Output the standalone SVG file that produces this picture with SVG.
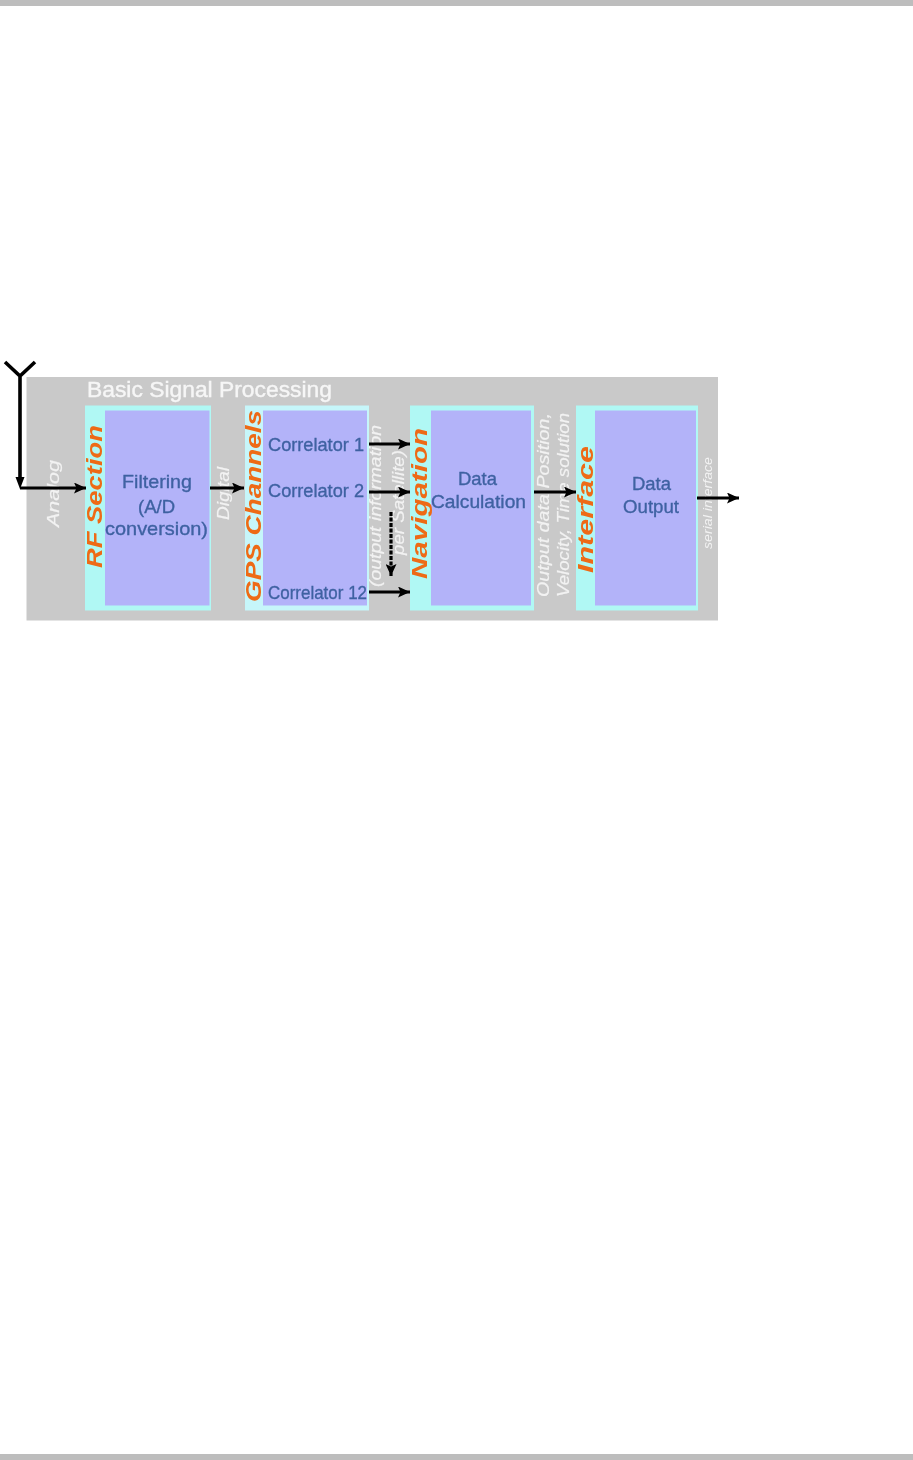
<svg xmlns="http://www.w3.org/2000/svg" width="913" height="1460" viewBox="0 0 913 1460">
<defs>
<marker id="ah" markerUnits="userSpaceOnUse" markerWidth="12" markerHeight="11" refX="12" refY="5.500" orient="auto"><path d="M0 0L12 5.500L0 11L2.500 5.500Z" fill="#000"/></marker>
<filter id="soft" x="-5%" y="-5%" width="110%" height="110%"><feGaussianBlur stdDeviation="0.45"/></filter>
</defs>
<style>
text{font-family:"Liberation Sans",Arial,sans-serif}
.lb{font-size:19px;fill:#3f62a2;stroke:#3f62a2;stroke-width:.35}
.or{font-size:21.500px;font-style:italic;font-weight:bold;fill:#ee6a14}
.wh{font-size:17px;font-style:italic;fill:#f2f2f2;stroke:#f2f2f2;stroke-width:.2}
.cy{fill:#b0f8f4}.cy2{fill:#c6f6fa}.in{fill:#b3b3f9}
.ln{stroke:#000;stroke-width:3.200;fill:none}
</style>
<rect width="913" height="1460" fill="#fff"/>
<rect x="0" y="0" width="913" height="6" fill="#bdbdbd"/>
<rect x="0" y="1454" width="913" height="6" fill="#bdbdbd"/>
<g filter="url(#soft)">
<g id="panel">
<rect x="26.500" y="377" width="691.500" height="243.500" fill="#c9c9c9"/>
<text x="87" y="397" font-size="22" fill="#f6f6f6" stroke="#f6f6f6" stroke-width=".4" textLength="245" lengthAdjust="spacingAndGlyphs">Basic Signal Processing</text>
<text class="wh" transform="translate(59,527) rotate(-90)" textLength="67" lengthAdjust="spacingAndGlyphs">Analog</text>
<text class="wh" transform="translate(229,520) rotate(-90)" textLength="53" lengthAdjust="spacingAndGlyphs">Digital</text>
<text class="wh" transform="translate(381,587) rotate(-90)" textLength="162" lengthAdjust="spacingAndGlyphs">(output information</text>
<text class="wh" transform="translate(404,555) rotate(-90)" textLength="105" lengthAdjust="spacingAndGlyphs">per Satellite)</text>
<text class="wh" transform="translate(549,597) rotate(-90)" textLength="184" lengthAdjust="spacingAndGlyphs">Output data Position,</text>
<text class="wh" transform="translate(569,597) rotate(-90)" textLength="184" lengthAdjust="spacingAndGlyphs">Velocity, Time solution</text>
<text style="font-size:12px;font-style:italic;fill:#f2f2f2" transform="translate(712,549) rotate(-90)" textLength="92" lengthAdjust="spacingAndGlyphs">serial interface</text>
</g>
<g id="rf-section">
<rect class="cy" x="85" y="405.500" width="126" height="205"/>
<rect class="in" x="105" y="410.500" width="104.500" height="195"/>
<text class="or" transform="translate(102,568) rotate(-90)" textLength="143" lengthAdjust="spacingAndGlyphs">RF Section</text>
<text class="lb" x="122" y="488" textLength="70" lengthAdjust="spacingAndGlyphs">Filtering</text>
<text class="lb" x="138" y="513" textLength="37" lengthAdjust="spacingAndGlyphs">(A/D</text>
<text class="lb" x="105" y="535" textLength="103" lengthAdjust="spacingAndGlyphs">conversion)</text>
</g>
<g id="gps-channels">
<rect class="cy2" x="245" y="405.500" width="124" height="205"/>
<rect class="in" x="263" y="410.500" width="104" height="195"/>
<text class="or" transform="translate(261,602) rotate(-90)" textLength="192" lengthAdjust="spacingAndGlyphs">GPS Channels</text>
<text class="lb" x="268" y="451" textLength="96" lengthAdjust="spacingAndGlyphs">Correlator 1</text>
<text class="lb" x="268" y="497" textLength="96" lengthAdjust="spacingAndGlyphs">Correlator 2</text>
<text class="lb" x="268" y="599" textLength="99" lengthAdjust="spacingAndGlyphs">Correlator 12</text>
</g>
<g id="navigation">
<rect class="cy" x="410" y="405.500" width="124" height="205"/>
<rect class="in" x="431" y="410.500" width="100" height="195"/>
<text class="or" transform="translate(427,579) rotate(-90)" textLength="151" lengthAdjust="spacingAndGlyphs">Navigation</text>
<text class="lb" x="458" y="485" textLength="39" lengthAdjust="spacingAndGlyphs">Data</text>
<text class="lb" x="431" y="508" textLength="95" lengthAdjust="spacingAndGlyphs">Calculation</text>
</g>
<g id="interface">
<rect class="cy" x="576" y="405.500" width="122" height="205"/>
<rect class="in" x="595" y="410.500" width="101" height="195"/>
<text class="or" transform="translate(593,573) rotate(-90)" textLength="127" lengthAdjust="spacingAndGlyphs">Interface</text>
<text class="lb" x="632" y="490" textLength="39" lengthAdjust="spacingAndGlyphs">Data</text>
<text class="lb" x="623" y="513" textLength="56" lengthAdjust="spacingAndGlyphs">Output</text>
</g>
<g id="connectors">
<path class="ln" style="stroke-width:3.600" d="M5 362L20 376L35 362M20 376V482"/>
<path d="M15.500 477L20 489L24.500 477Z" fill="#000"/>
<path class="ln" marker-end="url(#ah)" d="M20 488H86"/>
<path class="ln" marker-end="url(#ah)" d="M210 488H244"/>
<path class="ln" marker-end="url(#ah)" d="M369 444H410"/>
<path class="ln" marker-end="url(#ah)" d="M369 492H410"/>
<path class="ln" marker-end="url(#ah)" d="M369 592H410"/>
<path class="ln" marker-end="url(#ah)" stroke-dasharray="4 1.500" d="M391 512V576"/>
<path class="ln" marker-end="url(#ah)" d="M534 492H576"/>
<path class="ln" marker-end="url(#ah)" d="M697 498H739"/>
</g>
</g>
</svg>
